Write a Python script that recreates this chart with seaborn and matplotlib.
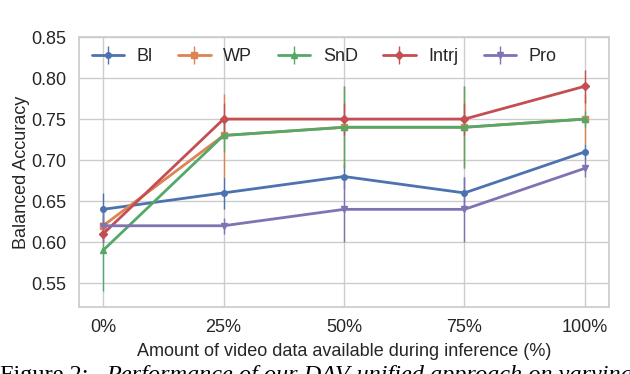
import matplotlib
matplotlib.use("Agg")
import matplotlib.pyplot as plt
import seaborn as sns
import numpy as np

# datos
x_pct = [0, 25, 50, 75, 100]
x_labels = ["0%", "25%", "50%", "75%", "100%"]

metodos = ["Bl", "WP", "SnD", "Intrj", "Pro"]
bl = [0.64, 0.66, 0.68, 0.66, 0.71]
bl_err = [0.02, 0.02, 0.015, 0.02, 0.01]
wp = [0.62, 0.73, 0.74, 0.74, 0.75]
wp_err = [0.01, 0.05, 0.05, 0.05, 0.03]
snd = [0.59, 0.73, 0.74, 0.74, 0.75]
snd_err = [0.05, 0.02, 0.05, 0.05, 0.01]
intrj = [0.61, 0.75, 0.75, 0.75, 0.79]
intrj_err = [0.01, 0.02, 0.02, 0.02, 0.02]
pro = [0.62, 0.62, 0.64, 0.64, 0.69]
pro_err = [0.02, 0.01, 0.04, 0.04, 0.01]

valores = [bl, wp, snd, intrj, pro]
errores = [bl_err, wp_err, snd_err, intrj_err, pro_err]
marcadores = ["o", "s", "^", "D", "v"]

sns.set_theme(style="whitegrid", palette="deep")
plt.rcParams['font.family'] = ['Liberation Sans', 'DejaVu Sans']
colores = sns.color_palette("deep")

fig = plt.figure(figsize=(6.3, 3.74), dpi=100)
ax = fig.add_axes([79/630, 1 - 307/374, 530/630, 270/374])

for i, nombre in enumerate(metodos):
    ax.errorbar(x_pct, valores[i], yerr=errores[i], color=colores[i],
                marker=marcadores[i], markersize=4, linewidth=2,
                elinewidth=1, capsize=0, label=nombre)

ax.set_xlim(-5, 105)
ax.set_ylim(0.521, 0.85)
ax.set_xticks(x_pct)
ax.set_xticklabels(x_labels)
ax.set_yticks([0.55, 0.60, 0.65, 0.70, 0.75, 0.80, 0.85])
ax.tick_params(labelsize=13, pad=3)
ax.set_xlabel("Amount of video data available during inference (%)", fontsize=13, labelpad=5)
ax.set_ylabel("Balanced Accuracy", fontsize=13, labelpad=1)

ax.legend(loc="center left", bbox_to_anchor=(0.0, 0.926), ncol=5, frameon=False,
          fontsize=13, handlelength=1.8, handletextpad=0.7, columnspacing=1.4,
          borderaxespad=0.3)

# pie de figura (cortado abajo como en la pagina)
fig.text(0.0, -0.018, "Figure 2:", family=['Liberation Serif', 'DejaVu Serif'],
         fontsize=17.5, ha="left", va="baseline", color="black")
fig.text(106/630, -0.018, "Performance of our DAV-unified approach on varying",
         family=['Liberation Serif', 'DejaVu Serif'], style="italic",
         fontsize=17.5, ha="left", va="baseline", color="black")

fig.savefig("out.png", dpi=100)
